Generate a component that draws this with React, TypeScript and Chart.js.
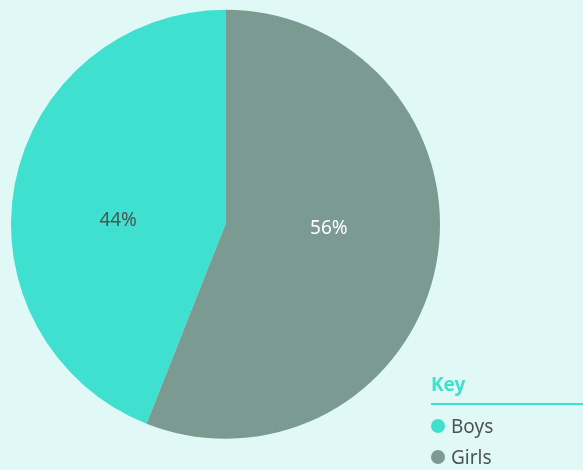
import React, { useEffect, useRef } from "react";
import { Chart, registerables } from "chart.js";

Chart.register(...registerables);

const categories = ["Boys", "Girls"];
const values = [44, 56];
const sliceColors = ["#40E0D0", "#7A9A92"];
const labelColors = ["#4A5552", "#FFFFFF"];
const legendTitle = "Key";

const BG = "#E1F9F6";
const TEXT = "#4A5552";
const FONT = "'Noto Sans', 'Open Sans', sans-serif";

const pctLabels = {
  id: "pctLabels",
  afterDatasetsDraw(chart: any) {
    const ctx = chart.ctx;
    const meta = chart.getDatasetMeta(0);
    const total = values.reduce((a, b) => a + b, 0);
    ctx.save();
    ctx.font = `19px ${FONT}`;
    ctx.textAlign = "center";
    ctx.textBaseline = "middle";
    meta.data.forEach((arc: any, i: number) => {
      const p = arc.getProps(["x", "y", "startAngle", "endAngle", "outerRadius"], true);
      const mid = (p.startAngle + p.endAngle) / 2;
      const r = p.outerRadius * 0.5;
      const x = p.x + r * Math.cos(mid) - 2;
      const y = p.y + r * Math.sin(mid) * 0.2;
      ctx.fillStyle = labelColors[i];
      ctx.fillText(`${Math.round((values[i] / total) * 100)}%`, x, y);
    });
    ctx.restore();
  },
};

export default function App() {
  const ref = useRef<HTMLCanvasElement>(null);
  useEffect(() => {
    if (!ref.current) return;
    const chart = new Chart(ref.current, {
      type: "pie",
      data: {
        labels: categories,
        datasets: [
          {
            data: values,
            backgroundColor: sliceColors,
            borderWidth: 0,
          },
        ],
      },
      options: {
        animation: false,
        responsive: false,
        rotation: 201.6,
        layout: { padding: { left: 11, top: 9.5, right: 143, bottom: 31 } },
        plugins: {
          legend: { display: false },
          tooltip: { enabled: false },
        },
      },
      plugins: [pctLabels],
    });
    return () => chart.destroy();
  }, []);

  return (
    <div
      style={{
        position: "fixed",
        left: 0,
        top: 0,
        width: 583,
        height: 470,
        background: BG,
        overflow: "hidden",
        fontFamily: FONT,
      }}
    >
      <canvas ref={ref} width={583} height={470} style={{ position: "absolute", left: 0, top: 0 }} />
      <div style={{ position: "absolute", left: 431, top: 372, right: 0 }}>
        <div
          style={{
            color: "#40E0D0",
            fontWeight: 700,
            fontSize: 19,
            lineHeight: "25px",
            paddingBottom: 6,
            borderBottom: "2px solid #40E0D0",
          }}
        >
          {legendTitle}
        </div>
        {categories.map((c, i) => (
          <div
            key={c}
            style={{
              display: "flex",
              alignItems: "center",
              height: 31,
              marginTop: i === 0 ? 5 : 0,
              color: TEXT,
              fontSize: 19,
            }}
          >
            <span
              style={{
                display: "inline-block",
                width: 14,
                height: 14,
                borderRadius: "50%",
                background: sliceColors[i],
                marginRight: 6,
              }}
            />
            {c}
          </div>
        ))}
      </div>
    </div>
  );
}
